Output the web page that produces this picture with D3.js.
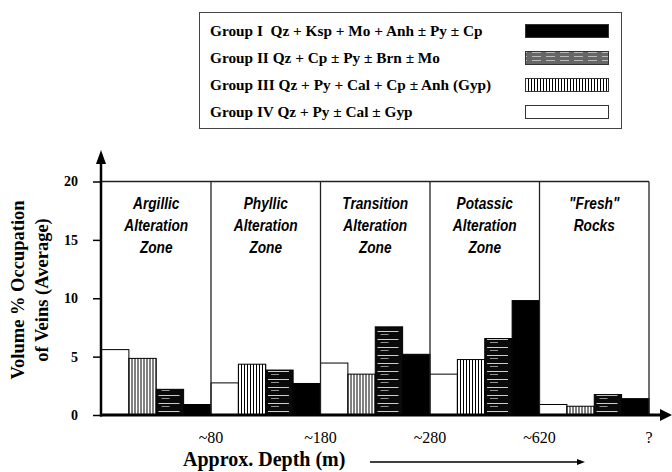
<!DOCTYPE html>
<html>
<head>
<meta charset="utf-8">
<script src="https://cdn.jsdelivr.net/npm/d3@7"></script>
<style>
  body { margin: 0; background: #fff; }
  svg { display: block; }
</style>
</head>
<body>
<div id="chart"></div>
<script>
// zones along the depth axis
const zones = ['Argillic', 'Phyllic', 'Transition', 'Potassic', 'Fresh'];
const zoneLabels = [
  ['Argillic', 'Alteration', 'Zone'],
  ['Phyllic', 'Alteration', 'Zone'],
  ['Transition', 'Alteration', 'Zone'],
  ['Potassic', 'Alteration', 'Zone'],
  ['"Fresh"', 'Rocks'],
];
const depthLabels = ['~80', '~180', '~280', '~620', '?'];
const yTicks = [0, 5, 10, 15, 20];

// vein groups, in the order the bars are drawn inside each zone
const groups = ['IV', 'III', 'II', 'I'];
const groupIV = [5.6, 2.75, 4.45, 3.5, 0.9];
const groupIII = [4.85, 4.35, 3.5, 4.75, 0.75];
const groupII = [2.2, 3.85, 7.55, 6.55, 1.75];
const groupI = [0.9, 2.7, 5.2, 9.8, 1.4];

const legendGroups = ['I', 'II', 'III', 'IV'];
const legendLabels = [
  'Group I  Qz + Ksp + Mo + Anh \u00b1 Py \u00b1 Cp',
  'Group II Qz + Cp \u00b1 Py \u00b1 Brn \u00b1 Mo',
  'Group III Qz + Py + Cal + Cp \u00b1 Anh (Gyp)',
  'Group IV Qz + Py \u00b1 Cal \u00b1 Gyp',
];

const values = { I: groupI, II: groupII, III: groupIII, IV: groupIV };
const fills = {
  I: '#000', II: 'url(#horiz)', III: 'url(#vert)', IV: '#fff',
};
const legendFills = {
  I: '#000', II: 'url(#horizLegend)', III: 'url(#vert)', IV: '#fff',
};

const width = 672;
const height = 472;
const serif = '"Liberation Serif", "Times New Roman", serif';
const sans = '"Liberation Sans", Arial, sans-serif';

const svg = d3.select('#chart')
  .append('svg')
  .attr('width', width)
  .attr('height', height);

// patterns
const defs = svg.append('defs');
const vert = defs.append('pattern')
  .attr('id', 'vert')
  .attr('patternUnits', 'userSpaceOnUse')
  .attr('width', 3)
  .attr('height', 10);
vert.append('rect').attr('width', 3).attr('height', 10).attr('fill', '#fff');
vert.append('line')
  .attr('x1', 0.5).attr('x2', 0.5).attr('y1', 0).attr('y2', 10)
  .attr('stroke', '#000').attr('stroke-width', 1);

const horiz = defs.append('pattern')
  .attr('id', 'horiz')
  .attr('patternUnits', 'userSpaceOnUse')
  .attr('width', 27)
  .attr('height', 8);
horiz.append('rect').attr('width', 27).attr('height', 8).attr('fill', '#0a0a0a');
horiz.append('line')
  .attr('x1', 3).attr('x2', 24).attr('y1', 3.5).attr('y2', 3.5)
  .attr('stroke', '#fff').attr('stroke-width', 0.8);
horiz.append('line')
  .attr('x1', 6).attr('x2', 14).attr('y1', 6.5).attr('y2', 6.5)
  .attr('stroke', '#ccc').attr('stroke-width', 0.7);

const horizLegend = defs.append('pattern')
  .attr('id', 'horizLegend')
  .attr('patternUnits', 'userSpaceOnUse')
  .attr('width', 14)
  .attr('height', 4);
horizLegend.append('rect').attr('width', 14).attr('height', 4).attr('fill', '#666');
horizLegend.append('line')
  .attr('x1', 0).attr('x2', 9).attr('y1', 1.5).attr('y2', 1.5)
  .attr('stroke', '#bbb').attr('stroke-width', 1);

// scales
const x = d3.scaleBand()
  .domain(zones)
  .range([101.5, 649]);

const xInner = d3.scaleBand()
  .domain(groups)
  .range([0, x.bandwidth()]);

const y = d3.scaleLinear()
  .domain([0, 20])
  .range([415, 181.5]);

// bars
const plot = svg.append('g');
zones.forEach((z, i) => {
  plot.append('g')
    .attr('transform', `translate(${x(z)},0)`)
    .selectAll('rect')
    .data(groups.map((g) => ({ g, v: values[g][i] })))
    .enter()
    .append('rect')
    .attr('x', (d) => xInner(d.g))
    .attr('y', (d) => y(d.v))
    .attr('width', xInner.bandwidth())
    .attr('height', (d) => y(0) - y(d.v))
    .attr('fill', (d) => fills[d.g])
    .attr('stroke', '#000')
    .attr('stroke-width', 1);
});

// zone frames
plot.append('line')
  .attr('x1', 100).attr('x2', x.range()[1])
  .attr('y1', y(20)).attr('y2', y(20))
  .attr('stroke', '#222').attr('stroke-width', 1.3);
plot.selectAll('.zoneLine')
  .data(zones)
  .enter()
  .append('line')
  .attr('class', 'zoneLine')
  .attr('x1', (d) => x(d) + x.bandwidth())
  .attr('x2', (d) => x(d) + x.bandwidth())
  .attr('y1', y(20))
  .attr('y2', y(0))
  .attr('stroke', '#222')
  .attr('stroke-width', 1.3);

// zone labels (condensed bold italic)
zones.forEach((z, i) => {
  svg.append('text')
    .attr('transform', `translate(${x(z) + x.bandwidth() / 2},0) scale(0.83,1)`)
    .attr('text-anchor', 'middle')
    .attr('font-family', sans)
    .attr('font-style', 'italic')
    .attr('font-weight', 'bold')
    .attr('font-size', 16.5)
    .selectAll('tspan')
    .data(zoneLabels[i])
    .enter()
    .append('tspan')
    .attr('x', 0)
    .attr('y', (d, j) => 209 + j * 22)
    .text((d) => d);
});

// y axis
const yAxis = svg.append('g')
  .attr('transform', 'translate(101,0)')
  .call(d3.axisLeft(y).tickValues(yTicks).tickSize(8).tickPadding(15));
yAxis.select('.domain').remove();
yAxis.selectAll('.tick line').attr('stroke', '#000').attr('stroke-width', 1.5);
yAxis.selectAll('.tick text')
  .attr('font-family', serif)
  .attr('font-weight', 'bold')
  .attr('font-size', 14)
  .attr('fill', '#000');

svg.append('line')
  .attr('x1', 101).attr('x2', 101)
  .attr('y1', y(0) + 1.5).attr('y2', 160)
  .attr('stroke', '#000').attr('stroke-width', 2.5);
svg.append('path')
  .attr('d', 'M101,150 L96,164 L106,164 Z')
  .attr('fill', '#000');

// x axis
svg.append('line')
  .attr('x1', 100).attr('x2', 664)
  .attr('y1', y(0)).attr('y2', y(0))
  .attr('stroke', '#000').attr('stroke-width', 3);
svg.append('path')
  .attr('d', `M672,${y(0)} L660,${y(0) - 6} L660,${y(0) + 6} Z`)
  .attr('fill', '#000');

svg.selectAll('.depth')
  .data(zones)
  .enter()
  .append('text')
  .attr('class', 'depth')
  .attr('x', (d) => x(d) + x.bandwidth())
  .attr('y', 443)
  .attr('text-anchor', 'middle')
  .attr('font-family', serif)
  .attr('font-size', 16)
  .text((d, i) => depthLabels[i]);

// axis titles
svg.append('text')
  .attr('x', 183)
  .attr('y', 466)
  .attr('font-family', serif)
  .attr('font-weight', 'bold')
  .attr('font-size', 20)
  .text('Approx. Depth (m)');
svg.append('line')
  .attr('x1', 370).attr('x2', 578)
  .attr('y1', 462).attr('y2', 462)
  .attr('stroke', '#000').attr('stroke-width', 1.3);
svg.append('path')
  .attr('d', 'M585,462 L577,459 L577,465 Z')
  .attr('fill', '#000');

const yTitle = svg.append('text')
  .attr('transform', 'translate(0,290) rotate(-90)')
  .attr('text-anchor', 'middle')
  .attr('font-family', serif)
  .attr('font-weight', 'bold')
  .attr('font-size', 18.5);
yTitle.append('tspan').attr('x', 0).attr('y', 23.5).text('Volume % Occupation');
yTitle.append('tspan').attr('x', 0).attr('y', 47.5).text('of Veins (Average)');

// legend
const legend = svg.append('g');
legend.append('rect')
  .attr('x', 199.5).attr('y', 12.5)
  .attr('width', 422).attr('height', 116)
  .attr('fill', '#fff')
  .attr('stroke', '#444')
  .attr('stroke-width', 1);

const rows = legend.selectAll('.row')
  .data(legendGroups)
  .enter()
  .append('g')
  .attr('class', 'row')
  .attr('transform', (d, i) => `translate(0,${i * 27})`);

rows.append('text')
  .attr('x', 210)
  .attr('y', 36)
  .attr('font-family', serif)
  .attr('font-weight', 'bold')
  .attr('font-size', 15.3)
  .style('white-space', 'pre')
  .text((d, i) => legendLabels[i]);

rows.append('rect')
  .attr('x', 525.5)
  .attr('y', 24.5)
  .attr('width', 83)
  .attr('height', 13)
  .attr('fill', (d) => legendFills[d])
  .attr('stroke', '#333')
  .attr('stroke-width', 1);
</script>
</body>
</html>
